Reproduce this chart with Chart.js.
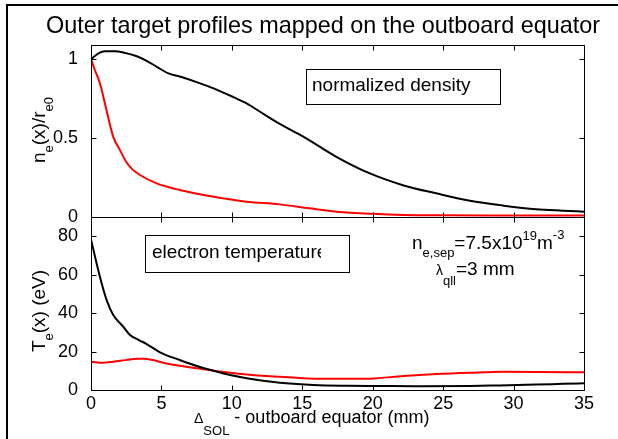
<!DOCTYPE html>
<html>
<head>
<meta charset="utf-8">
<script src="https://cdn.jsdelivr.net/npm/chart.js@4.4.1/dist/chart.umd.min.js"></script>
<style>
  html, body { margin: 0; padding: 0; background: #fff; }
  #wrap { position: relative; width: 618px; height: 439px; overflow: hidden; }
  #frame { position: absolute; left: 6px; top: 4px; right: -10px; bottom: -10px;
           border-top: 2px solid #000; border-left: 2px solid #000; }
  canvas { position: absolute; left: 0; top: 0; }
</style>
</head>
<body>
<div id="wrap">
  <div id="frame"></div>
  <canvas id="densCanvas" width="618" height="439"></canvas>
  <canvas id="tempCanvas" width="618" height="439"></canvas>
</div>
<script>
const FAMILY = "'Liberation Sans', Arial, Helvetica, sans-serif";

// distance from separatrix, mapped to the outboard equator (mm)
const mmTicks = [0, 5, 10, 15, 20, 25, 30, 35];
const densTicks = [0, 0.5, 1];
const tempTicks = [0, 20, 40, 60, 80];

// normalized density n_e(x)/n_e0, black and red cases
const neBlackX = [0, 0.5, 1.0, 1.7, 2.4, 3.2, 3.95, 4.7, 5.5, 6.3, 7.5, 8.7, 10.1, 11.05, 12.0, 13.4, 15.07, 17.45, 19.8, 22.2, 24.5, 26.9, 29.3, 31.6, 33.5, 35];
const neBlack  = [1.0, 1.035, 1.05, 1.05, 1.04, 1.02, 0.99, 0.95, 0.91, 0.89, 0.855, 0.815, 0.76, 0.72, 0.667, 0.59, 0.51, 0.38, 0.276, 0.2, 0.15, 0.103, 0.072, 0.049, 0.04, 0.034];
const neRedX = [0, 0.28, 0.64, 1.1, 1.58, 2.06, 2.5, 2.9, 3.48, 4.66, 6.3, 8.7, 11.05, 13.4, 15.5, 17.45, 20, 22.2, 25, 28, 31, 35];
const neRed  = [1.0, 0.93, 0.846, 0.677, 0.508, 0.424, 0.35, 0.305, 0.266, 0.213, 0.171, 0.128, 0.097, 0.08, 0.055, 0.034, 0.02, 0.013, 0.011, 0.01, 0.01, 0.01];

// electron temperature T_e(x) in eV
const teBlackX = [0, 0.4, 0.76, 1.11, 1.58, 2.29, 2.77, 3.4, 3.95, 4.9, 6.3, 7.5, 8.7, 9.87, 11.05, 12.2, 13.4, 15.8, 18.2, 20.5, 23, 26.9, 29, 31.6, 33.5, 35];
const teBlack  = [78.3, 65.8, 55.4, 46.8, 39, 32.9, 28.6, 26, 23.9, 19.6, 15.6, 12.5, 10, 7.8, 6.1, 4.8, 3.8, 2.6, 2.2, 2.1, 2.0, 2.1, 2.4, 2.8, 3.2, 3.5];
const teRedX = [0, 0.87, 1.58, 2.2, 2.77, 3.2, 3.7, 4.4, 5.13, 6.3, 7.5, 8.7, 9.9, 11.05, 13.4, 15.8, 18.2, 19.8, 22.2, 24.5, 26.9, 29.3, 32, 35];
const teRed  = [14.7, 14.2, 14.7, 15.3, 15.9, 16.2, 16.3, 15.6, 14.2, 12.6, 11.3, 10, 9, 8.1, 6.9, 5.9, 5.8, 5.9, 7.3, 8.3, 9.0, 9.5, 9.4, 9.2];

Chart.defaults.font.family = FAMILY;
Chart.defaults.font.size = 18;
Chart.defaults.color = '#000';

function pts(xs, ys) {
  return xs.map((x, i) => ({ x: x, y: ys[i] }));
}

function curve(xs, ys, color) {
  return {
    data: pts(xs, ys),
    borderColor: color,
    borderWidth: 2,
    pointRadius: 0,
    fill: false,
    cubicInterpolationMode: 'monotone'
  };
}

// text made of runs: [text, font size, vertical shift]
function drawRuns(ctx, runs, x, y) {
  let cx = x;
  for (const r of runs) {
    ctx.font = r[1] + 'px ' + FAMILY;
    ctx.fillText(r[0], cx, y + r[2]);
    cx += ctx.measureText(r[0]).width;
  }
  return cx;
}

function runsWidth(ctx, runs) {
  let w = 0;
  for (const r of runs) {
    ctx.font = r[1] + 'px ' + FAMILY;
    w += ctx.measureText(r[0]).width;
  }
  return w;
}

function verticalLabel(ctx, runs, x, yCenter) {
  ctx.save();
  ctx.translate(x, yCenter);
  ctx.rotate(-Math.PI / 2);
  drawRuns(ctx, runs, -runsWidth(ctx, runs) / 2, 0);
  ctx.restore();
}

function textBox(ctx, label, x, y, w, h, tx, ty, clipX) {
  ctx.save();
  ctx.fillStyle = '#fff';
  ctx.fillRect(x, y, w, h);
  ctx.strokeStyle = '#000';
  ctx.lineWidth = 1;
  ctx.strokeRect(x + 0.5, y + 0.5, w, h);
  ctx.beginPath();
  ctx.rect(x, y, clipX - x, h);
  ctx.clip();
  ctx.fillStyle = '#000';
  ctx.font = '19px ' + FAMILY;
  ctx.fillText(label, tx, ty);
  ctx.restore();
}

// closed axes box with inward ticks on all four sides
const boxTicks = {
  id: 'boxTicks',
  afterDatasetsDraw(chart) {
    const { ctx, chartArea: a, scales } = chart;
    const L = Math.round(a.left) + 0.5, R = Math.round(a.right) + 0.5;
    const T = Math.round(a.top) + 0.5, B = Math.round(a.bottom) + 0.5;
    ctx.save();
    ctx.strokeStyle = '#000';
    ctx.lineWidth = 1;
    ctx.strokeRect(L, T, R - L, B - T);
    ctx.beginPath();
    for (const t of scales.x.ticks) {
      const px = Math.round(scales.x.getPixelForValue(t.value)) + 0.5;
      ctx.moveTo(px, T); ctx.lineTo(px, T + 5);
      ctx.moveTo(px, B); ctx.lineTo(px, B - 5);
    }
    for (const t of scales.y.ticks) {
      const py = Math.round(scales.y.getPixelForValue(t.value)) + 0.5;
      ctx.moveTo(L, py); ctx.lineTo(L + 5, py);
      ctx.moveTo(R, py); ctx.lineTo(R - 5, py);
    }
    ctx.stroke();
    ctx.restore();
  }
};

const densNotes = {
  id: 'densNotes',
  afterDraw(chart) {
    const ctx = chart.ctx;
    ctx.save();
    ctx.fillStyle = '#000';
    ctx.textBaseline = 'alphabetic';
    ctx.textAlign = 'center';
    ctx.font = '23.4px ' + FAMILY;
    ctx.fillText('Outer target profiles mapped on the outboard equator', 323, 33);
    ctx.textAlign = 'left';
    verticalLabel(ctx, [['n', 19, 0], ['e', 13, 8], ['(', 19, 0], ['x', 19, 0], [')/r', 19, 0], ['e0', 13, 8]], 45, 130);
    textBox(ctx, 'normalized density', 306, 69, 194, 35, 312, 91, 500);
    ctx.restore();
  }
};

const tempNotes = {
  id: 'tempNotes',
  afterDraw(chart) {
    const ctx = chart.ctx;
    ctx.save();
    ctx.fillStyle = '#000';
    ctx.textBaseline = 'alphabetic';
    ctx.textAlign = 'left';
    verticalLabel(ctx, [['T', 19, 0], ['e', 13, 8], ['(x) (eV)', 19, 0]], 45, 311);
    textBox(ctx, 'electron temperature', 145, 235, 204, 37, 152, 258, 321);
    drawRuns(ctx, [['n', 19, 0], ['e,sep', 13, 8], ['=7.5x10', 19, 0], ['19', 13, -9], ['m', 19, 0], ['-3', 13, -10]], 412, 249);
    drawRuns(ctx, [['\u03bb', 14, 0], ['qll', 13, 10], ['=3 mm', 19, 0]], 436, 275);
    drawRuns(ctx, [['\u0394', 14, 0], ['SOL', 13, 12], [' - outboard equator (mm)', 18, 0]], 194, 423);
    ctx.restore();
  }
};

function panel(canvasId, datasets, yMax, yTicks, padding, bottomAxis, notes) {
  return new Chart(document.getElementById(canvasId), {
    type: 'line',
    data: { datasets: datasets },
    options: {
      responsive: false,
      animation: false,
      events: [],
      layout: { padding: padding },
      plugins: { legend: { display: false }, tooltip: { enabled: false } },
      scales: {
        x: {
          type: 'linear', min: 0, max: 35,
          afterBuildTicks: s => { s.ticks = mmTicks.map(v => ({ value: v })); },
          afterFit: s => { s.height = bottomAxis ? 49 : 0; },
          grid: { display: false },
          border: { display: false },
          ticks: { display: bottomAxis, padding: -5, callback: v => String(v) }
        },
        y: {
          type: 'linear', min: 0, max: yMax,
          afterBuildTicks: s => { s.ticks = yTicks.map(v => ({ value: v })); },
          afterFit: s => { s.width = 91; },
          grid: { display: false },
          border: { display: false },
          ticks: { padding: 5, callback: v => String(v) }
        }
      }
    },
    plugins: [boxTicks, notes]
  });
}

panel('densCanvas',
  [curve(neBlackX, neBlack, '#000'), curve(neRedX, neRed, '#ff0000')],
  1.09, densTicks, { left: 0, top: 45, right: 34, bottom: 222 }, false, densNotes);

panel('tempCanvas',
  [curve(teBlackX, teBlack, '#000'), curve(teRedX, teRed, '#ff0000')],
  90, tempTicks, { left: 0, top: 217, right: 34, bottom: 0 }, true, tempNotes);
</script>
</body>
</html>
